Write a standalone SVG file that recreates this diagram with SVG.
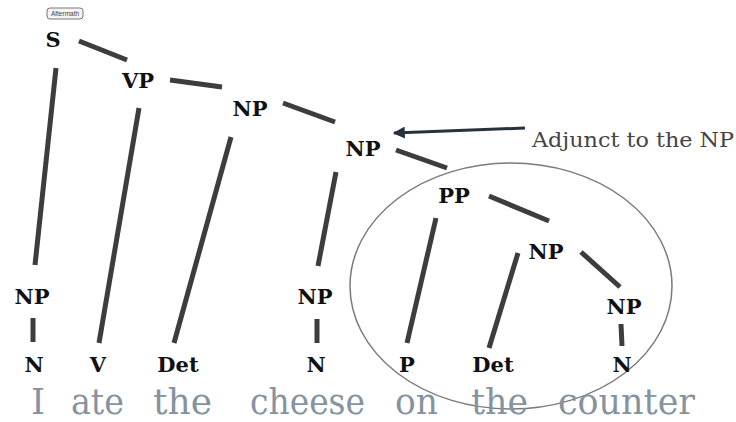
<svg xmlns="http://www.w3.org/2000/svg" width="736" height="422" viewBox="0 0 736 422">
  <style>
    .lbl { font-family: "DejaVu Serif", "Liberation Serif", serif; font-weight: bold; font-size: 21px; fill: #111; text-anchor: middle; }
    .edge { stroke: #3d3d3d; stroke-width: 5; stroke-linecap: butt; fill: none; }
    .word { font-family: "DejaVu Serif", "Liberation Serif", serif; font-size: 35px; fill: #8593a0; }
    .note { font-family: "DejaVu Serif", "Liberation Serif", serif; font-size: 21px; fill: #444; }
  </style>
  <defs>
    <marker id="head" viewBox="0 0 10 10" refX="9" refY="5" markerWidth="4" markerHeight="4" orient="auto">
      <path d="M0,0 L10,5 L0,10 z" fill="#27323e"/>
    </marker>
  </defs>
  <rect width="736" height="422" fill="#fff"/>

  <!-- small badge -->
  <g id="badge">
    <rect x="47" y="8" width="36" height="11" rx="3" fill="#f4f4f4" stroke="#777" stroke-width="1"/>
    <text x="65" y="16" font-family="Liberation Sans, sans-serif" font-size="6.5" fill="#444" text-anchor="middle">Aftermath</text>
  </g>

  <!-- tree branches -->
  <g id="connectors">
    <line class="edge" x1="79" y1="41" x2="127" y2="60"/>
    <line class="edge" x1="170" y1="80" x2="222" y2="87"/>
    <line class="edge" x1="283" y1="103" x2="335" y2="122"/>
    <line class="edge" x1="396" y1="150" x2="447" y2="168"/>
    <line class="edge" x1="489" y1="196" x2="549" y2="221"/>
    <line class="edge" x1="581" y1="252" x2="620" y2="287"/>
    <line class="edge" x1="621" y1="324" x2="622" y2="346"/>
    <line class="edge" x1="436" y1="218" x2="407" y2="343"/>
    <line class="edge" x1="518" y1="253" x2="489" y2="348"/>
    <line class="edge" x1="56" y1="68" x2="35" y2="265"/>
    <line class="edge" x1="33" y1="318" x2="33" y2="342"/>
    <line class="edge" x1="139" y1="108" x2="99" y2="343"/>
    <line class="edge" x1="231" y1="137" x2="174" y2="343"/>
    <line class="edge" x1="336" y1="172" x2="318" y2="266"/>
    <line class="edge" x1="317" y1="319" x2="317" y2="343"/>
    <line x1="525" y1="128" x2="394" y2="133" stroke="#27323e" stroke-width="3" marker-end="url(#head)"/>
  </g>

  <!-- grouping ellipse around the prepositional phrase -->
  <ellipse id="pp-ring" cx="511" cy="286" rx="161" ry="123" fill="none" stroke="#7a7a7a" stroke-width="1.5"/>

  <!-- nodes -->
  <g id="n-s"><text class="lbl" x="53" y="47">S</text></g>
  <g id="n-vp"><text class="lbl" x="138" y="88">VP</text></g>
  <g id="n-np1"><text class="lbl" x="250" y="116">NP</text></g>
  <g id="n-np2"><text class="lbl" x="363" y="156">NP</text></g>
  <g id="n-pp"><text class="lbl" x="454" y="203">PP</text></g>
  <g id="n-np3"><text class="lbl" x="546" y="259">NP</text></g>
  <g id="n-np4"><text class="lbl" x="624" y="314">NP</text></g>
  <g id="n-np-i"><text class="lbl" x="32" y="304">NP</text></g>
  <g id="n-np-cheese"><text class="lbl" x="315" y="304">NP</text></g>
  <g id="n-n1"><text class="lbl" x="34" y="372">N</text></g>
  <g id="n-v"><text class="lbl" x="98" y="372">V</text></g>
  <g id="n-det1"><text class="lbl" x="178" y="372">Det</text></g>
  <g id="n-n2"><text class="lbl" x="316" y="372">N</text></g>
  <g id="n-p"><text class="lbl" x="407" y="372">P</text></g>
  <g id="n-det2"><text class="lbl" x="493" y="372">Det</text></g>
  <g id="n-n3"><text class="lbl" x="622" y="372">N</text></g>

  <!-- annotation -->
  <g id="note"><text class="note" x="532" y="147" textLength="202" lengthAdjust="spacingAndGlyphs">Adjunct to the NP</text></g>

  <!-- sentence -->
  <g id="sentence">
    <text class="word" x="31" y="414" textLength="14" lengthAdjust="spacingAndGlyphs">I</text>
    <text class="word" x="71" y="414" textLength="53" lengthAdjust="spacingAndGlyphs">ate</text>
    <text class="word" x="153" y="414" textLength="59" lengthAdjust="spacingAndGlyphs">the</text>
    <text class="word" x="250" y="414" textLength="115" lengthAdjust="spacingAndGlyphs">cheese</text>
    <text class="word" x="395" y="414" textLength="43" lengthAdjust="spacingAndGlyphs">on</text>
    <text class="word" x="471" y="414" textLength="57" lengthAdjust="spacingAndGlyphs">the</text>
    <text class="word" x="558" y="414" textLength="137" lengthAdjust="spacingAndGlyphs">counter</text>
  </g>
</svg>
